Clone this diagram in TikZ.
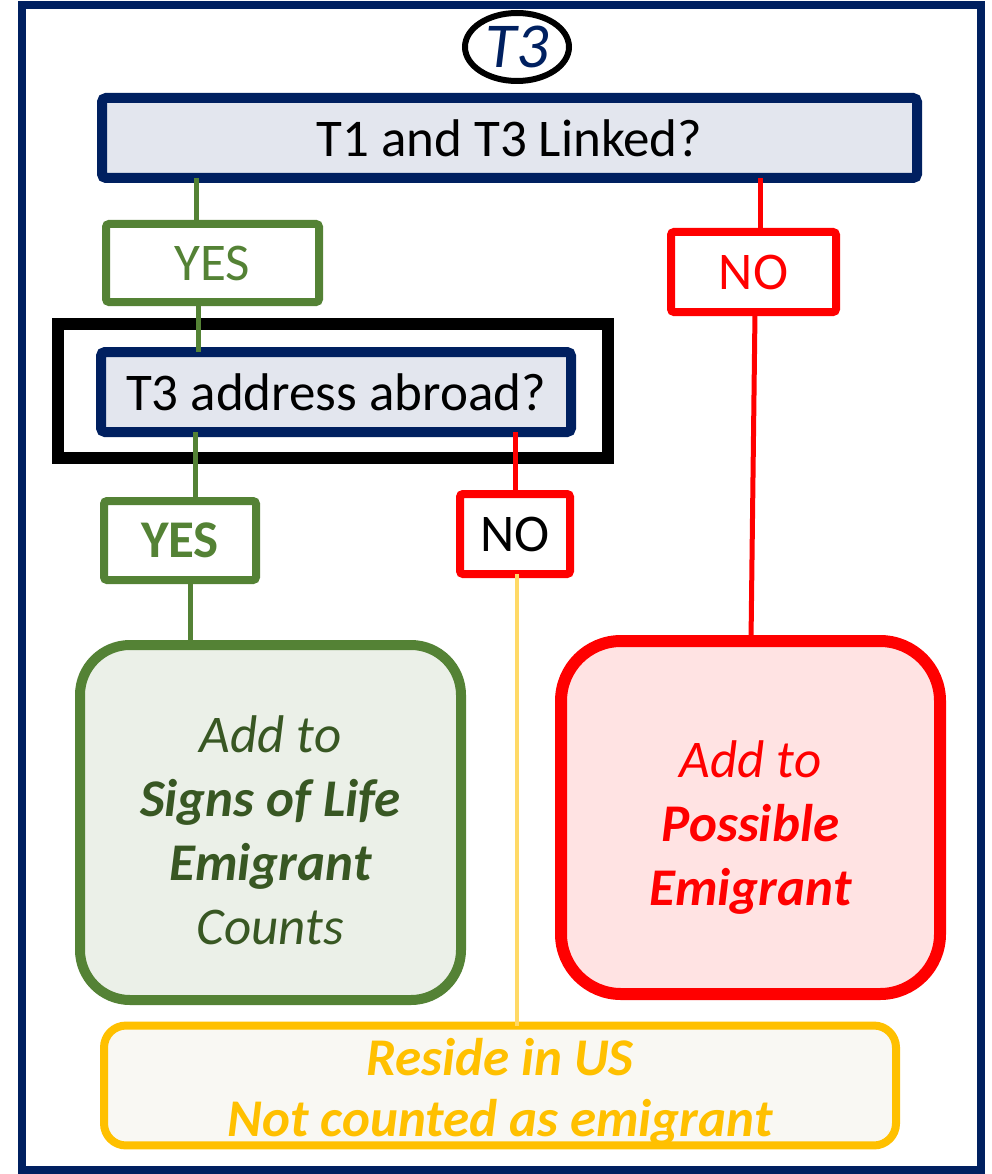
\documentclass[tikz,border=0pt]{standalone}
\usepackage{fontspec}
\setmainfont{Carlito}
\usetikzlibrary{shapes.geometric}
\definecolor{navy}{HTML}{002060}
\definecolor{gr}{HTML}{548235}
\definecolor{dgr}{HTML}{385723}
\definecolor{rd}{HTML}{FF0000}
\definecolor{yl}{HTML}{FFC000}
\definecolor{lyl}{HTML}{FFD966}
\definecolor{qfill}{HTML}{E3E6EE}
\definecolor{gfill}{HTML}{EBF0E8}
\definecolor{rfill}{HTML}{FFE3E3}
\definecolor{yfill}{HTML}{F9F8F3}
\tikzset{
  base/.style={inner sep=0pt, outer sep=0pt, font=\fontsize{53}{64}\selectfont, align=center},
  qbox/.style={base, draw=navy, line width=10pt, fill=qfill, rounded corners=4pt},
  yesbox/.style={base, draw=gr, line width=8pt, fill=white, rounded corners=3pt, text=gr},
  nobox/.style={base, draw=rd, line width=8pt, fill=white, rounded corners=3pt},
  gline/.style={draw=gr, line width=5pt},
  rline/.style={draw=rd, line width=5pt},
  yline/.style={draw=lyl, line width=4pt},
}
\begin{document}
\begin{tikzpicture}[x=1pt,y=-1pt]
\useasboundingbox (0,0) rectangle (992,1174);
\draw[navy, line width=8pt] (22,5) rectangle (981,1170);
% coordinates for connector x positions
\coordinate (x196) at (196,0);
\coordinate (x198) at (198,0);
\coordinate (x195) at (195,0);
\coordinate (x190) at (190,0);
\coordinate (x515) at (515,0);
\coordinate (x517) at (517,0);
\coordinate (x760) at (760,0);
\coordinate (x755) at (755,0);
\coordinate (x751) at (751,0);
% nodes
\node[qbox, minimum width=815pt, minimum height=80pt] (q1) at (509.5,138) {T1 and T3 Linked?};
\node[yesbox, minimum width=213pt, minimum height=78pt] (yes1) at (212.5,263) {YES};
\node[nobox, minimum width=165pt, minimum height=80pt, text=rd] (no1) at (753.5,272) {NO};
\node[base, draw=black, line width=12pt, minimum width=550pt, minimum height=134pt] (hl) at (333,391) {};
\node[qbox, minimum width=470pt, minimum height=80pt] (q2) at (336,392) {T3 address abroad?};
\node[yesbox, minimum width=152pt, minimum height=79pt, font=\fontsize{53}{64}\selectfont\bfseries] (yes2) at (180,540.5) {YES};
\node[nobox, minimum width=110pt, minimum height=80pt, text=black] (no2) at (515,534) {NO};
\node[base, draw=gr, line width=10pt, fill=gfill, rounded corners=50pt, minimum width=381pt, minimum height=355pt, text=dgr] (sol) at (270.5,822.5)
  {\rule{0pt}{52pt}\itshape Add to\\ \bfseries\itshape Signs of Life\\ \bfseries\itshape Emigrant\\ \itshape Counts};
\node[base, draw=rd, line width=12pt, fill=rfill, rounded corners=60pt, minimum width=379pt, minimum height=353pt, text=rd] (pe) at (750.5,817.5)
  {\rule{0pt}{56pt}\itshape Add to\\ \bfseries\itshape Possible\\ \bfseries\itshape Emigrant};
\node[base, draw=yl, line width=8pt, fill=yfill, rounded corners=22pt, minimum width=792pt, minimum height=111pt, text=yl, font=\fontsize{53}{61}\selectfont\bfseries\itshape] (res) at (500,1085.5)
  {\rule{0pt}{50pt}Reside in US\\ Not counted as emigrant};
\node[ellipse, draw=black, line width=6pt, fill=white, inner sep=0pt, minimum width=104pt, minimum height=68pt, text=navy, font=\fontsize{64}{64}\selectfont\itshape] (t3) at (517,47) {T3};
% connectors
\draw[gline] (q1.south -| x196) -- (yes1.north -| x196);
\draw[gline] (yes1.south -| x198) -- (q2.north -| x198);
\draw[gline] (q2.south -| x195) -- (yes2.north -| x195);
\draw[gline] (yes2.south -| x190) -- (sol.north -| x190);
\draw[rline] (q2.south -| x515) -- (no2.north -| x515);
\draw[yline] (no2.south -| x517) -- (res.north -| x517);
\draw[rline] (q1.south -| x760) -- (no1.north -| x760);
\draw[rline] (no1.south -| x755) -- (pe.north -| x751);
\end{tikzpicture}
\end{document}
